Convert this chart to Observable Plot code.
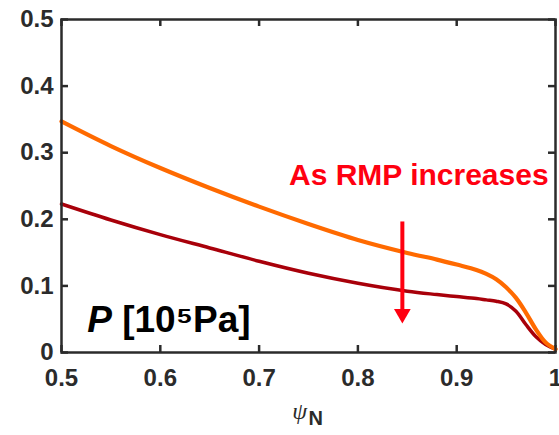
<!DOCTYPE html>
<html><head><meta charset="utf-8">
<script src="https://cdn.jsdelivr.net/npm/d3@7"></script>
<script src="https://cdn.jsdelivr.net/npm/@observablehq/plot@0.6"></script>
<style>body{margin:0;background:#fff;}</style>
</head><body><div id="chart"></div>
<script>
// ---- data ----
const psi      = [0.50, 0.55, 0.60, 0.65, 0.70, 0.75, 0.80, 0.85, 0.88, 0.90, 0.92, 0.93, 0.94, 0.95, 0.96, 0.97, 0.98, 0.99, 1.00];
const pLowRMP  = [0.347,0.310,0.277,0.247,0.219,0.193,0.169,0.1495,0.1395,0.132,0.124,0.118,0.110,0.098,0.082,0.060,0.035,0.015,0.005];
const pHighRMP = [0.223,0.199,0.177,0.157,0.137,0.119,0.104,0.092,0.087,0.084,0.081,0.079,0.077,0.073,0.062,0.042,0.024,0.012,0.005];
const xTicks = [0.5, 0.6, 0.7, 0.8, 0.9, 1];
const xTickLabels = ["0.5", "0.6", "0.7", "0.8", "0.9", "1"];
const yTicks = [0, 0.1, 0.2, 0.3, 0.4, 0.5];
const yTickLabels = ["0", "0.1", "0.2", "0.3", "0.4", "0.5"];
const annotText = ["As RMP increases"];
const annotTextPos = [{x: 0.993, y: 0.252}];
const arrowPos = [{x: 0.845, y1: 0.196, y2: 0.062, head: 0.058}];
const panelLabelPos = [{x: 0.526, y: 0.031}];
const axisLabelPos = [{x: 0.741}];

const rowsHigh = psi.map((x, i) => ({psi: x, p: pHighRMP[i]}));
const rowsLow = psi.map((x, i) => ({psi: x, p: pLowRMP[i]}));

const W = 559, H = 435, mL = 61, mR = 4, mT = 19, mB = 83;
const pw = W - mL - mR, ph = H - mT - mB;
const font = "Liberation Sans, Arial, Helvetica, sans-serif";
const axisColor = "#2b2b2b";

const chart = Plot.plot({
  width: W, height: H,
  marginLeft: mL, marginRight: mR, marginTop: mT, marginBottom: mB,
  style: {fontFamily: font, background: "#fff", overflow: "visible"},
  x: {domain: [0.5, 1]},
  y: {domain: [0, 0.5]},
  marks: [
    Plot.axisX(xTicks, {tickSize: 0, tickPadding: 16, tickFormat: d => xTickLabels[xTicks.indexOf(d)],
      fontSize: 24, fontWeight: "bold", fill: axisColor, label: null}),
    Plot.axisY(yTicks, {tickSize: 0, tickPadding: 8, tickFormat: d => yTickLabels[yTicks.indexOf(d)],
      fontSize: 24, fontWeight: "bold", fill: axisColor, label: null}),
    // inward ticks on all four sides
    Plot.tickX(xTicks, {x: d => d, insetTop: ph - 7, stroke: axisColor, strokeWidth: 2.5}),
    Plot.tickX(xTicks, {x: d => d, insetBottom: ph - 7, stroke: axisColor, strokeWidth: 2.5}),
    Plot.tickY(yTicks, {y: d => d, insetRight: pw - 7, stroke: axisColor, strokeWidth: 2.5}),
    Plot.tickY(yTicks, {y: d => d, insetLeft: pw - 7, stroke: axisColor, strokeWidth: 2.5}),
    Plot.line(rowsHigh, {x: "psi", y: "p", stroke: "#a8000a", strokeWidth: 3.5, curve: "catmull-rom"}),
    Plot.line(rowsLow, {x: "psi", y: "p", stroke: "#ff6a00", strokeWidth: 4.2, curve: "catmull-rom"}),
    Plot.frame({stroke: axisColor, strokeWidth: 2.5}),
    // arrow
    Plot.ruleX(arrowPos, {x: "x", y1: "y1", y2: "y2", stroke: "#ff0010", strokeWidth: 4}),
    Plot.dot(arrowPos, {x: "x", y: "head", symbol: "triangle", rotate: 180, r: 6.2, fill: "#ff0010", stroke: null}),
    Plot.text(annotTextPos, {x: "x", y: "y", text: () => annotText[0], textAnchor: "end", lineAnchor: "bottom",
      fontSize: 30, fontWeight: "bold", fill: "#ff0010"}),
    // panel label
    Plot.text(panelLabelPos, {x: "x", y: "y", text: () => "P", textAnchor: "start", lineAnchor: "bottom",
      fontSize: 37, fontWeight: "bold", fontStyle: "italic", fill: "#000"}),
    Plot.text(panelLabelPos, {x: "x", y: "y", dx: 35, text: () => "[10\u2075Pa]", textAnchor: "start", lineAnchor: "bottom",
      fontSize: 37, fontWeight: "bold", fill: "#000"}),
    // x axis label psi_N
    Plot.text(axisLabelPos, {x: "x", frameAnchor: "bottom", dy: 66, text: () => "\u03C8", textAnchor: "middle",
      fontSize: 24, fontStyle: "italic", fontFamily: "Liberation Serif, Times New Roman, serif", fill: axisColor}),
    Plot.text(axisLabelPos, {x: "x", frameAnchor: "bottom", dx: 9, dy: 72, text: () => "N", textAnchor: "start",
      fontSize: 20, fontWeight: "bold", fill: axisColor})
  ]
});
document.getElementById("chart").appendChild(chart);
</script>
</body></html>
